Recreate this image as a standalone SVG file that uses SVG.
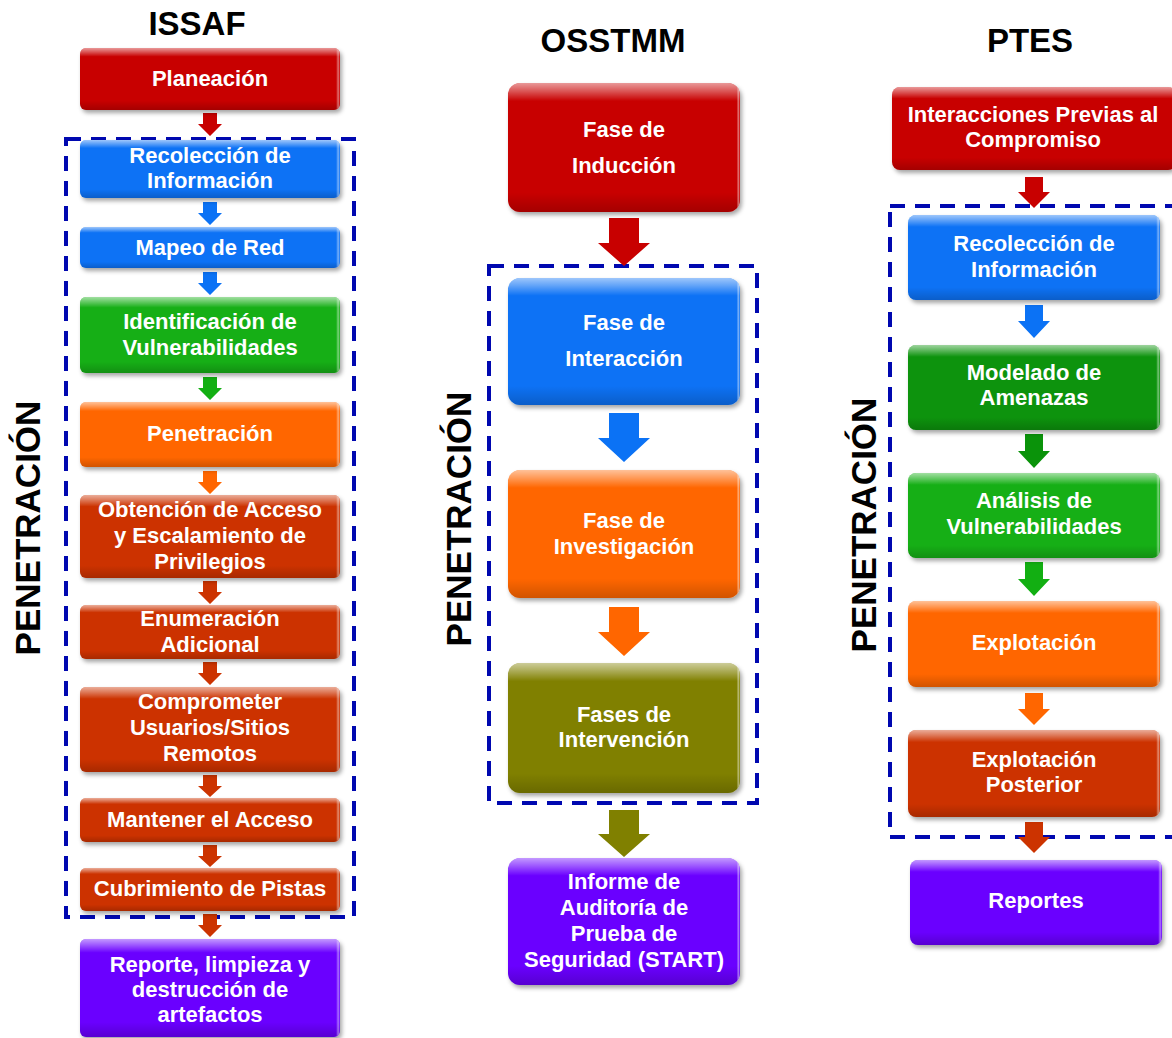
<svg xmlns="http://www.w3.org/2000/svg" width="1172" height="1038" viewBox="0 0 1172 1038">
  <defs>
    <filter id="shadow" x="-10%" y="-10%" width="125%" height="130%">
      <feDropShadow dx="2" dy="3" stdDeviation="2" flood-color="#000" flood-opacity="0.35"/>
    </filter>
    <linearGradient id="gloss" x1="0" y1="0" x2="0" y2="1">
      <stop offset="0" stop-color="#fff" stop-opacity="0.6"/>
      <stop offset="0.06" stop-color="#fff" stop-opacity="0.35"/>
      <stop offset="0.14" stop-color="#fff" stop-opacity="0"/>
      <stop offset="0.85" stop-color="#000" stop-opacity="0"/>
      <stop offset="1" stop-color="#000" stop-opacity="0.18"/>
    </linearGradient>
    <linearGradient id="edge" x1="0" y1="0" x2="1" y2="0">
      <stop offset="0" stop-color="#fff" stop-opacity="0"/>
      <stop offset="0.985" stop-color="#fff" stop-opacity="0"/>
      <stop offset="0.993" stop-color="#fff" stop-opacity="0.45"/>
      <stop offset="1" stop-color="#fff" stop-opacity="0"/>
    </linearGradient>
    <linearGradient id="arrowGloss" x1="0" y1="0" x2="1" y2="0">
      <stop offset="0" stop-color="#000" stop-opacity="0.05"/>
      <stop offset="0.55" stop-color="#fff" stop-opacity="0"/>
      <stop offset="0.62" stop-color="#fff" stop-opacity="0.3"/>
      <stop offset="0.7" stop-color="#fff" stop-opacity="0"/>
      <stop offset="1" stop-color="#000" stop-opacity="0.08"/>
    </linearGradient>
  </defs>
  <style>
    .title { font-family: "Liberation Sans", Arial, sans-serif; font-weight: bold; font-size: 33px; fill: #000; text-anchor: middle; }
    .side { font-family: "Liberation Sans", Arial, sans-serif; font-weight: bold; font-size: 35px; fill: #000; text-anchor: middle; }
    .lbl { font-family: "Liberation Sans", Arial, sans-serif; font-weight: bold; font-size: 22px; fill: #fff; text-anchor: middle; }
    .frame { fill: none; stroke: #0008B0; stroke-width: 4; stroke-dasharray: 15 10; }
    .box { filter: url(#shadow); }
    .red { fill: #C80000; }
    .blue { fill: #0B72F5; }
    .green { fill: #12AF12; }
    .dgreen { fill: #0A930A; }
    .orange { fill: #FF6600; }
    .rust { fill: #CC3300; }
    .olive { fill: #808000; }
    .purple { fill: #6A00FF; }
    .sheen { fill: url(#gloss); }
    .rim { fill: url(#edge); }
  </style>

  <!-- column titles -->
  <text class="title" x="197" y="35">ISSAF</text>
  <text class="title" x="613" y="52">OSSTMM</text>
  <text class="title" x="1030" y="52">PTES</text>

  <!-- vertical side labels -->
  <text class="side" transform="translate(40,528) rotate(-90)">PENETRACIÓN</text>
  <text class="side" transform="translate(471,519) rotate(-90)">PENETRACIÓN</text>
  <text class="side" transform="translate(876,525) rotate(-90)">PENETRACIÓN</text>

  <!-- dashed penetration frames -->
  <rect class="frame" x="66" y="139" width="288" height="778"/>
  <rect class="frame" x="489" y="266" width="268" height="537"/>
  <rect class="frame" x="890" y="206" width="292" height="631"/>

  <!-- connectors -->
  <g id="connectors">
    <!-- ISSAF -->
    <path class="red" d="M203 113H217V124H222L210 136L198 124H203Z"/>
    <path class="blue" d="M203 202H217V213H222L210 225L198 213H203Z"/>
    <path class="blue" d="M203 272H217V283H222L210 295L198 283H203Z"/>
    <path class="green" d="M203 377H217V388H222L210 400L198 388H203Z"/>
    <path class="orange" d="M203 471H217V482H222L210 494L198 482H203Z"/>
    <path class="rust" d="M203 581H217V592H222L210 604L198 592H203Z"/>
    <path class="rust" d="M203 662H217V673H222L210 685L198 673H203Z"/>
    <path class="rust" d="M203 775H217V786H222L210 797L198 786H203Z"/>
    <path class="rust" d="M203 845H217V856H222L210 867L198 856H203Z"/>
    <path class="rust" d="M203 914H217V925H222L210 937L198 925H203Z"/>
    <!-- OSSTMM -->
    <path class="red" d="M609 218H639V243H650L624 266L598 243H609Z"/>
    <path class="blue" d="M609 413H639V438H650L624 462L598 438H609Z"/>
    <path class="orange" d="M609 607H639V632H650L624 656L598 632H609Z"/>
    <path class="olive" d="M609 810H639V834H650L624 857L598 834H609Z"/>
    <!-- PTES -->
    <path class="red" d="M1025 177H1043V192H1050L1034 208L1018 192H1025Z"/>
    <path class="blue" d="M1025 305H1043V321H1050L1034 338L1018 321H1025Z"/>
    <path class="dgreen" d="M1025 434H1043V451H1050L1034 468L1018 451H1025Z"/>
    <path class="green" d="M1025 562H1043V579H1050L1034 596L1018 579H1025Z"/>
    <path class="orange" d="M1025 693H1043V709H1050L1034 725L1018 709H1025Z"/>
    <path class="rust" d="M1025 822H1043V837H1050L1034 853L1018 837H1025Z"/>
  </g>

  <!-- ISSAF nodes -->
  <g id="issaf-planeacion">
    <rect class="box red" x="80" y="48" width="260" height="62" rx="6"/>
    <rect class="sheen" x="80" y="48" width="260" height="62" rx="6"/>
    <rect class="rim" x="80" y="48" width="260" height="62" rx="6"/>
    <text class="lbl" x="210" y="86">Planeación</text>
  </g>
  <g id="issaf-recoleccion">
    <rect class="box blue" x="80" y="140" width="260" height="58" rx="6"/>
    <rect class="sheen" x="80" y="140" width="260" height="58" rx="6"/>
    <rect class="rim" x="80" y="140" width="260" height="58" rx="6"/>
    <text class="lbl" x="210" y="163">Recolección de</text>
    <text class="lbl" x="210" y="188">Información</text>
  </g>
  <g id="issaf-mapeo">
    <rect class="box blue" x="80" y="227" width="260" height="41" rx="6"/>
    <rect class="sheen" x="80" y="227" width="260" height="41" rx="6"/>
    <rect class="rim" x="80" y="227" width="260" height="41" rx="6"/>
    <text class="lbl" x="210" y="255">Mapeo de Red</text>
  </g>
  <g id="issaf-identificacion">
    <rect class="box green" x="80" y="297" width="260" height="76" rx="6"/>
    <rect class="sheen" x="80" y="297" width="260" height="76" rx="6"/>
    <rect class="rim" x="80" y="297" width="260" height="76" rx="6"/>
    <text class="lbl" x="210" y="329">Identificación de</text>
    <text class="lbl" x="210" y="355">Vulnerabilidades</text>
  </g>
  <g id="issaf-penetracion">
    <rect class="box orange" x="80" y="402" width="260" height="65" rx="6"/>
    <rect class="sheen" x="80" y="402" width="260" height="65" rx="6"/>
    <rect class="rim" x="80" y="402" width="260" height="65" rx="6"/>
    <text class="lbl" x="210" y="441">Penetración</text>
  </g>
  <g id="issaf-obtencion">
    <rect class="box rust" x="80" y="495" width="260" height="83" rx="6"/>
    <rect class="sheen" x="80" y="495" width="260" height="83" rx="6"/>
    <rect class="rim" x="80" y="495" width="260" height="83" rx="6"/>
    <text class="lbl" x="210" y="517">Obtención de Acceso</text>
    <text class="lbl" x="210" y="543">y Escalamiento de</text>
    <text class="lbl" x="210" y="569">Privilegios</text>
  </g>
  <g id="issaf-enumeracion">
    <rect class="box rust" x="80" y="605" width="260" height="54" rx="6"/>
    <rect class="sheen" x="80" y="605" width="260" height="54" rx="6"/>
    <rect class="rim" x="80" y="605" width="260" height="54" rx="6"/>
    <text class="lbl" x="210" y="626">Enumeración</text>
    <text class="lbl" x="210" y="652">Adicional</text>
  </g>
  <g id="issaf-comprometer">
    <rect class="box rust" x="80" y="687" width="260" height="85" rx="6"/>
    <rect class="sheen" x="80" y="687" width="260" height="85" rx="6"/>
    <rect class="rim" x="80" y="687" width="260" height="85" rx="6"/>
    <text class="lbl" x="210" y="709">Comprometer</text>
    <text class="lbl" x="210" y="735">Usuarios/Sitios</text>
    <text class="lbl" x="210" y="761">Remotos</text>
  </g>
  <g id="issaf-mantener">
    <rect class="box rust" x="80" y="798" width="260" height="44" rx="6"/>
    <rect class="sheen" x="80" y="798" width="260" height="44" rx="6"/>
    <rect class="rim" x="80" y="798" width="260" height="44" rx="6"/>
    <text class="lbl" x="210" y="827">Mantener el Acceso</text>
  </g>
  <g id="issaf-cubrimiento">
    <rect class="box rust" x="80" y="868" width="260" height="43" rx="6"/>
    <rect class="sheen" x="80" y="868" width="260" height="43" rx="6"/>
    <rect class="rim" x="80" y="868" width="260" height="43" rx="6"/>
    <text class="lbl" x="210" y="896">Cubrimiento de Pistas</text>
  </g>
  <g id="issaf-reporte">
    <rect class="box purple" x="80" y="939" width="260" height="98" rx="6"/>
    <rect class="sheen" x="80" y="939" width="260" height="98" rx="6"/>
    <rect class="rim" x="80" y="939" width="260" height="98" rx="6"/>
    <text class="lbl" x="210" y="972">Reporte, limpieza y</text>
    <text class="lbl" x="210" y="997">destrucción de</text>
    <text class="lbl" x="210" y="1022">artefactos</text>
  </g>

  <!-- OSSTMM nodes -->
  <g id="osstmm-induccion">
    <rect class="box red" x="508" y="83" width="232" height="129" rx="12"/>
    <rect class="sheen" x="508" y="83" width="232" height="129" rx="12"/>
    <rect class="rim" x="508" y="83" width="232" height="129" rx="12"/>
    <text class="lbl" x="624" y="137">Fase de</text>
    <text class="lbl" x="624" y="173">Inducción</text>
  </g>
  <g id="osstmm-interaccion">
    <rect class="box blue" x="508" y="278" width="232" height="127" rx="12"/>
    <rect class="sheen" x="508" y="278" width="232" height="127" rx="12"/>
    <rect class="rim" x="508" y="278" width="232" height="127" rx="12"/>
    <text class="lbl" x="624" y="330">Fase de</text>
    <text class="lbl" x="624" y="366">Interacción</text>
  </g>
  <g id="osstmm-investigacion">
    <rect class="box orange" x="508" y="470" width="232" height="128" rx="12"/>
    <rect class="sheen" x="508" y="470" width="232" height="128" rx="12"/>
    <rect class="rim" x="508" y="470" width="232" height="128" rx="12"/>
    <text class="lbl" x="624" y="528">Fase de</text>
    <text class="lbl" x="624" y="554">Investigación</text>
  </g>
  <g id="osstmm-intervencion">
    <rect class="box olive" x="508" y="663" width="232" height="130" rx="12"/>
    <rect class="sheen" x="508" y="663" width="232" height="130" rx="12"/>
    <rect class="rim" x="508" y="663" width="232" height="130" rx="12"/>
    <text class="lbl" x="624" y="722">Fases de</text>
    <text class="lbl" x="624" y="747">Intervención</text>
  </g>
  <g id="osstmm-informe">
    <rect class="box purple" x="508" y="858" width="232" height="127" rx="12"/>
    <rect class="sheen" x="508" y="858" width="232" height="127" rx="12"/>
    <rect class="rim" x="508" y="858" width="232" height="127" rx="12"/>
    <text class="lbl" x="624" y="889">Informe de</text>
    <text class="lbl" x="624" y="915">Auditoría de</text>
    <text class="lbl" x="624" y="941">Prueba de</text>
    <text class="lbl" x="624" y="967">Seguridad (START)</text>
  </g>

  <!-- PTES nodes -->
  <g id="ptes-interacciones">
    <rect class="box red" x="892" y="87" width="284" height="83" rx="8"/>
    <rect class="sheen" x="892" y="87" width="284" height="83" rx="8"/>
    <text class="lbl" x="1033" y="122">Interacciones Previas al</text>
    <text class="lbl" x="1033" y="147">Compromiso</text>
  </g>
  <g id="ptes-recoleccion">
    <rect class="box blue" x="908" y="215" width="252" height="85" rx="8"/>
    <rect class="sheen" x="908" y="215" width="252" height="85" rx="8"/>
    <rect class="rim" x="908" y="215" width="252" height="85" rx="8"/>
    <text class="lbl" x="1034" y="251">Recolección de</text>
    <text class="lbl" x="1034" y="277">Información</text>
  </g>
  <g id="ptes-modelado">
    <rect class="box dgreen" x="908" y="345" width="252" height="85" rx="8"/>
    <rect class="sheen" x="908" y="345" width="252" height="85" rx="8"/>
    <rect class="rim" x="908" y="345" width="252" height="85" rx="8"/>
    <text class="lbl" x="1034" y="380">Modelado de</text>
    <text class="lbl" x="1034" y="405">Amenazas</text>
  </g>
  <g id="ptes-analisis">
    <rect class="box green" x="908" y="473" width="252" height="85" rx="8"/>
    <rect class="sheen" x="908" y="473" width="252" height="85" rx="8"/>
    <rect class="rim" x="908" y="473" width="252" height="85" rx="8"/>
    <text class="lbl" x="1034" y="508">Análisis de</text>
    <text class="lbl" x="1034" y="534">Vulnerabilidades</text>
  </g>
  <g id="ptes-explotacion">
    <rect class="box orange" x="908" y="601" width="252" height="86" rx="8"/>
    <rect class="sheen" x="908" y="601" width="252" height="86" rx="8"/>
    <rect class="rim" x="908" y="601" width="252" height="86" rx="8"/>
    <text class="lbl" x="1034" y="650">Explotación</text>
  </g>
  <g id="ptes-posterior">
    <rect class="box rust" x="908" y="730" width="252" height="87" rx="8"/>
    <rect class="sheen" x="908" y="730" width="252" height="87" rx="8"/>
    <rect class="rim" x="908" y="730" width="252" height="87" rx="8"/>
    <text class="lbl" x="1034" y="767">Explotación</text>
    <text class="lbl" x="1034" y="792">Posterior</text>
  </g>
  <g id="ptes-reportes">
    <rect class="box purple" x="910" y="860" width="252" height="85" rx="8"/>
    <rect class="sheen" x="910" y="860" width="252" height="85" rx="8"/>
    <rect class="rim" x="910" y="860" width="252" height="85" rx="8"/>
    <text class="lbl" x="1036" y="908">Reportes</text>
  </g>
</svg>
